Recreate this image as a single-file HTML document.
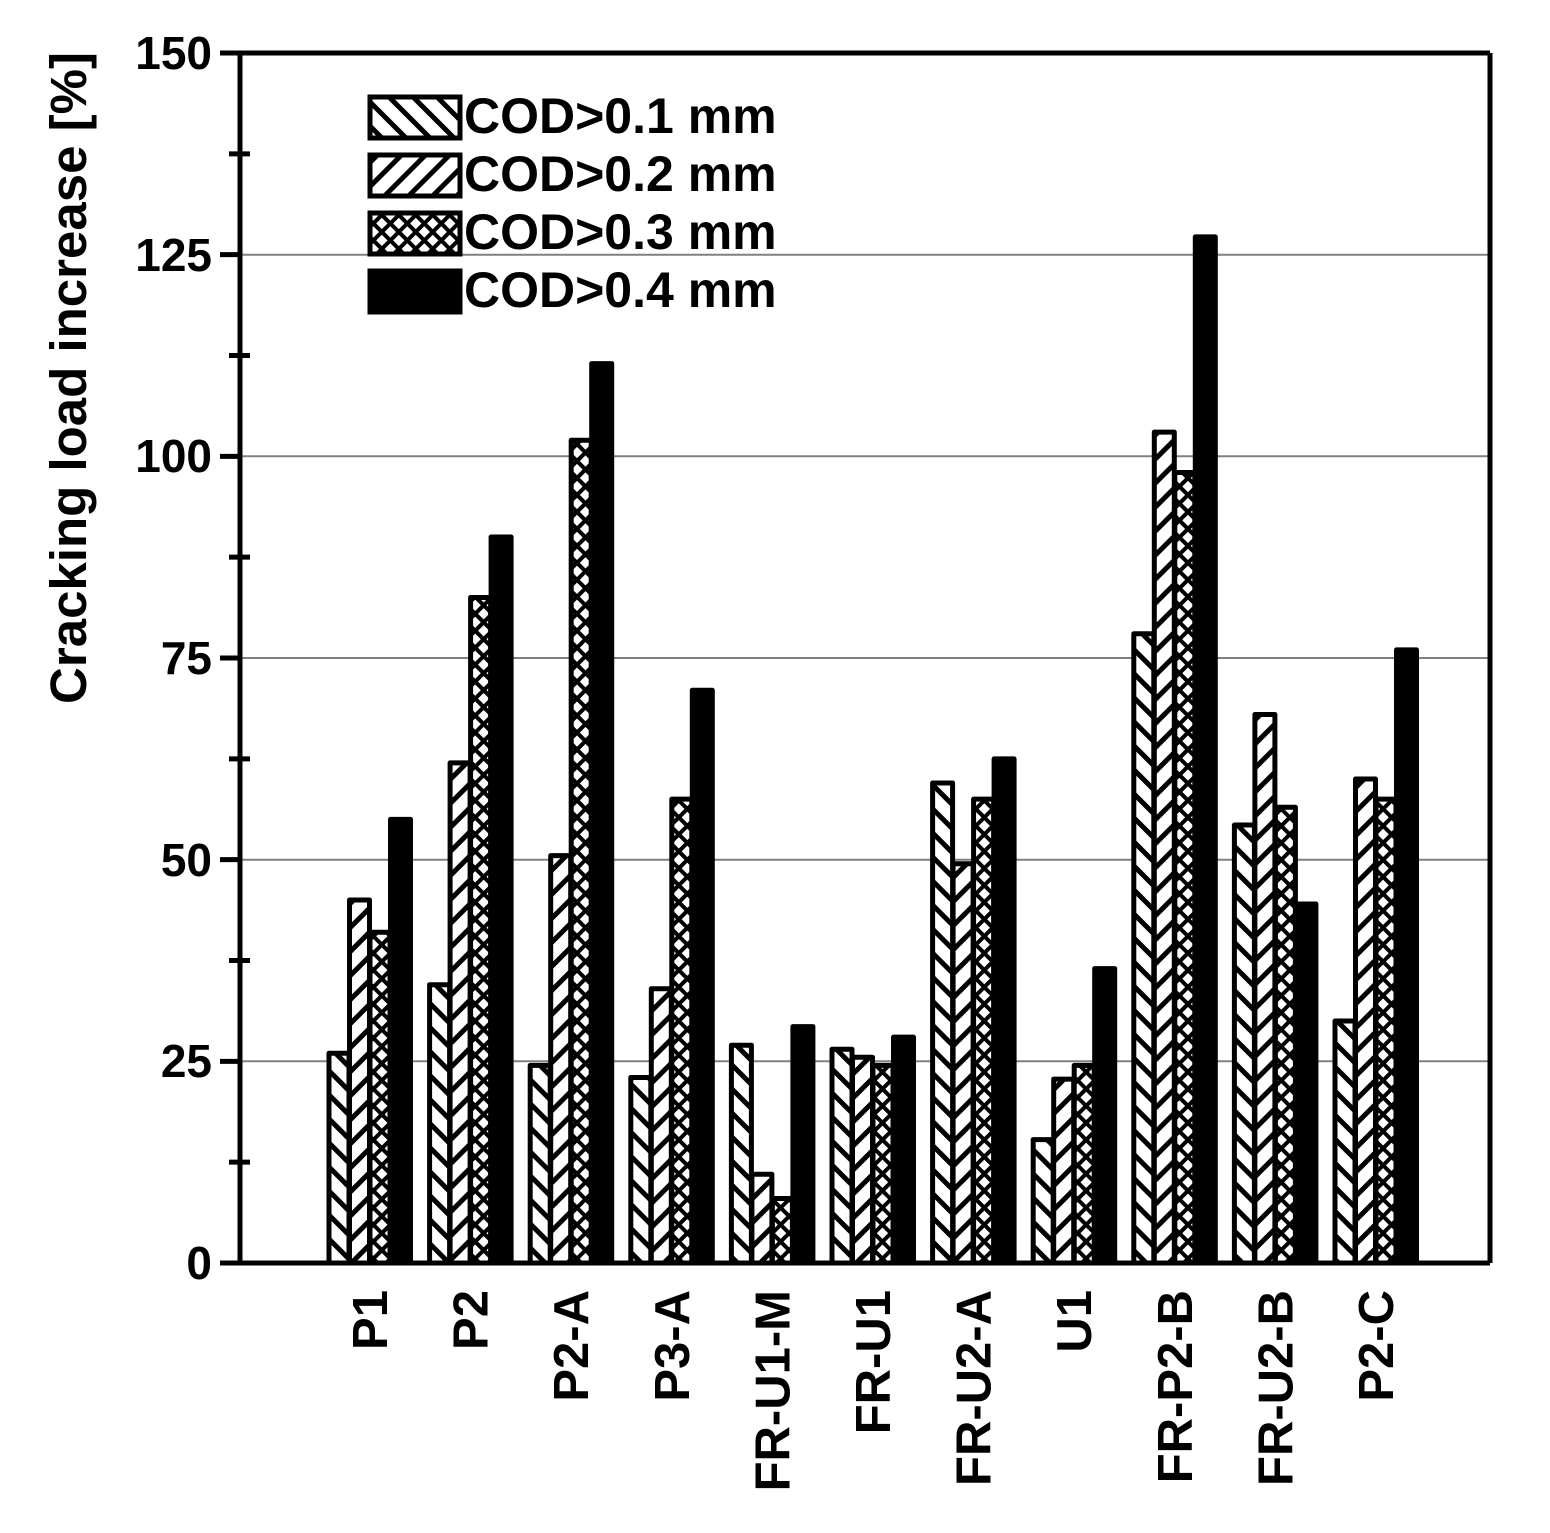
<!DOCTYPE html>
<html><head><meta charset="utf-8"><style>html,body{margin:0;padding:0;background:#fff}</style></head>
<body>
<svg width="1550" height="1528" xmlns="http://www.w3.org/2000/svg" font-family="Liberation Sans, sans-serif" font-weight="bold">
<defs>
<pattern id="bs" patternUnits="userSpaceOnUse" width="17" height="17" patternTransform="rotate(-45)">
<rect width="17" height="17" fill="#fff"/><rect x="0" y="0" width="5" height="17" fill="#000"/></pattern>
<pattern id="fs" patternUnits="userSpaceOnUse" width="17" height="17" patternTransform="rotate(45)">
<rect width="17" height="17" fill="#fff"/><rect x="0" y="0" width="5" height="17" fill="#000"/></pattern>
<pattern id="cx" patternUnits="userSpaceOnUse" width="12" height="12" patternTransform="rotate(45)">
<rect width="12" height="12" fill="#fff"/><rect x="0" y="0" width="4" height="12" fill="#000"/><rect x="0" y="0" width="12" height="4" fill="#000"/></pattern>
</defs>
<g stroke="#808080" stroke-width="2">
<line x1="240" x2="1490" y1="1061.3" y2="1061.3"/>
<line x1="240" x2="1490" y1="859.7" y2="859.7"/>
<line x1="240" x2="1490" y1="658" y2="658"/>
<line x1="240" x2="1490" y1="456.3" y2="456.3"/>
<line x1="240" x2="1490" y1="254.7" y2="254.7"/>
</g>
<g id="bars" stroke="#000" stroke-width="5" stroke-linejoin="round"></g>
<g stroke="#000" stroke-width="5" fill="none">
<line x1="240" y1="53" x2="1490" y2="53"/>
<line x1="240" y1="53" x2="240" y2="1263"/>
<line x1="1490" y1="53" x2="1490" y2="1263"/>
<line x1="220" y1="1263" x2="1490" y2="1263"/>
</g>
<g id="ticks" stroke="#000" stroke-width="5"></g>
<g font-size="46" text-anchor="end">
<text x="212" y="1279">0</text><text x="212" y="1077">25</text><text x="212" y="876">50</text>
<text x="212" y="674">75</text><text x="212" y="472">100</text><text x="212" y="271">125</text><text x="212" y="69">150</text>
</g>
<text transform="translate(86,378) rotate(-90)" font-size="51" text-anchor="middle">Cracking load increase [%]</text>
<g id="xl" font-size="49" text-anchor="end"></g>
<g stroke="#000" stroke-width="5">
<rect x="370" y="97" width="90" height="41" fill="url(#bs)"/>
<rect x="370" y="155" width="90" height="41" fill="url(#fs)"/>
<rect x="370" y="213" width="90" height="41" fill="url(#cx)"/>
<rect x="370" y="271" width="90" height="41" fill="#000"/>
</g>
<g font-size="50">
<text x="464" y="133">COD&gt;0.1 mm</text>
<text x="464" y="191">COD&gt;0.2 mm</text>
<text x="464" y="249">COD&gt;0.3 mm</text>
<text x="464" y="307">COD&gt;0.4 mm</text>
</g>
<script>
var d=[[26,45,41,55],[34.5,62,82.5,90],[24.5,50.5,102,111.5],[23,34,57.5,71],[27,11,8,29.3],[26.5,25.5,24.5,28],[59.5,49.5,57.5,62.5],[15.3,22.8,24.5,36.5],[78,103,98,127.2],[54.3,68,56.5,44.5],[30,60,57.5,76]];
var n=["P1","P2","P2-A","P3-A","FR-U1-M","FR-U1","FR-U2-A","U1","FR-P2-B","FR-U2-B","P2-C"];
var f=["url(#bs)","url(#fs)","url(#cx)","#000"];
var ns="http://www.w3.org/2000/svg",g=document.getElementById("bars"),xl=document.getElementById("xl"),tk=document.getElementById("ticks");
function Y(v){return 1263-v*8.0667;}
for(var i=0;i<11;i++){var x0=329+100.6*i;
for(var j=0;j<4;j++){var r=document.createElementNS(ns,"rect");var y=Y(d[i][j]);
r.setAttribute("x",x0+20.5*j);r.setAttribute("y",y);r.setAttribute("width",20);r.setAttribute("height",1263-y);r.setAttribute("fill",f[j]);g.appendChild(r);}
var t=document.createElementNS(ns,"text");var cx=x0+41+17;
t.setAttribute("transform","translate("+cx+",1290) rotate(-90)");t.textContent=n[i];xl.appendChild(t);}
for(var k=0;k<=12;k++){var y=Y(k*12.5);var l=document.createElementNS(ns,"line");
if(k%2==0){l.setAttribute("x1",220);l.setAttribute("x2",240);}else{l.setAttribute("x1",229);l.setAttribute("x2",250);}
l.setAttribute("y1",y);l.setAttribute("y2",y);tk.appendChild(l);}
</script>
</svg>
</body></html>
